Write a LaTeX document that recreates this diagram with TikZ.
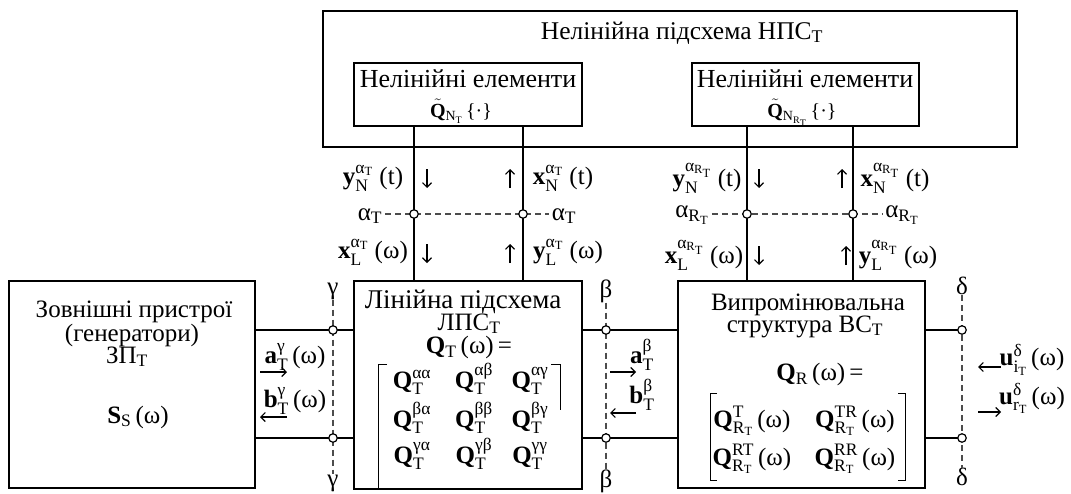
\documentclass[tikz,border=0pt]{standalone}
\usepackage{amsmath}
\usepackage{fontspec}
\setmainfont{Liberation Serif}
\usetikzlibrary{arrows.meta}
\newcommand{\tb}[1]{\text{\textbf{#1}}}
\newcommand{\tr}[1]{\text{#1}}
\begin{document}
\begin{tikzpicture}[x=1pt,y=-1pt,
  box/.style={draw, line width=2.6pt, inner sep=0},
  wire/.style={line width=1.2pt},
  brk/.style={line width=1pt},
  dsh/.style={line width=1.1pt, dash pattern=on 6pt off 4pt, black!70},
  term/.style={circle, draw, fill=white, line width=1.2pt, minimum size=8.5pt, inner sep=0},
  ttxt/.style={font=\fontsize{25.5}{28}\selectfont, inner sep=0},
  btxt/.style={font=\fontsize{26}{28}\selectfont, inner sep=0},
  mtxt/.style={font=\fontsize{25}{28}\selectfont, inner sep=0},
  ltxt/.style={font=\fontsize{27}{28}\selectfont, inner sep=0},
  mat/.style={font=\fontsize{25}{28}\selectfont, inner sep=0},
  lbl/.style={font=\fontsize{25}{26}\selectfont, inner sep=0},
  qlbl/.style={font=\fontsize{20}{22}\selectfont, inner sep=0},
  sarr/.style={line width=1.1pt, -{Straight Barb[length=4.5pt,width=9pt]}}
]
\useasboundingbox (0,0) rectangle (1071,493);

% boxes
\node[box, minimum width=694pt, minimum height=136pt] (NPS) at (670,79) {};
\node[box, minimum width=228pt, minimum height=63pt] (NE1) at (468,94.5) {};
\node[box, minimum width=227pt, minimum height=63pt] (NE2) at (805.5,94.5) {};
\node[box, minimum width=246pt, minimum height=207pt] (ZP) at (132,384.5) {};
\node[box, minimum width=228pt, minimum height=208pt] (LPS) at (468,385) {};
\node[box, minimum width=247pt, minimum height=207pt] (VS) at (801.5,384.5) {};

% terminal positions
\coordinate (pa1) at (414,214);
\coordinate (pa2) at (523,214);
\coordinate (pr1) at (747,214);
\coordinate (pr2) at (853,214);
\coordinate (pg1) at (333,330);
\coordinate (pg2) at (333,438);
\coordinate (pb1) at (606,330);
\coordinate (pb2) at (606,438);
\coordinate (pd1) at (962,330);
\coordinate (pd2) at (962,438);

% wires
\draw[wire] (NE1.south -| pa1) -- (LPS.north -| pa1);
\draw[wire] (NE1.south -| pa2) -- (LPS.north -| pa2);
\draw[wire] (NE2.south -| pr1) -- (VS.north -| pr1);
\draw[wire] (NE2.south -| pr2) -- (VS.north -| pr2);
\draw[wire] (ZP.east |- pg1) -- (LPS.west |- pg1);
\draw[wire] (ZP.east |- pg2) -- (LPS.west |- pg2);
\draw[wire] (LPS.east |- pb1) -- (VS.west |- pb1);
\draw[wire] (LPS.east |- pb2) -- (VS.west |- pb2);
\draw[wire] (VS.east |- pd1) -- (pd1);
\draw[wire] (VS.east |- pd2) -- (pd2);

% titles and texts
\node[ttxt, anchor=base] (tNPS) at (682,39) {Нелінійна підсхема НПС$_{\tr{T}}$};
\node[btxt, anchor=base] (tNE1) at (468,87) {Нелінійні елементи};
\node[qlbl, anchor=base] (qNE1) at (461,117) {$\tilde{\tb{Q}}_{\tr{N}_{\tr{T}}}$\,\{·\}};
\node[btxt, anchor=base] (tNE2) at (805,87) {Нелінійні елементи};
\node[qlbl, anchor=base] (qNE2) at (802,117) {$\tilde{\tb{Q}}_{\tr{N}_{\tr{R}_{\tr{T}}}}$\,\{·\}};

\node[mtxt, anchor=base] (tZP1) at (134,317) {Зовнішні пристрої};
\node[mtxt, anchor=base] (tZP2) at (132,341) {(генератори)};
\node[mtxt, anchor=base] (tZP3) at (127,363) {ЗП$_{\tr{T}}$};
\node[mtxt, anchor=base] (tZP4) at (138,423) {$\tb{S}_{\tr{S}}$\,(ω)};

\node[ltxt, anchor=base] (tL1) at (463,308) {Лінійна підсхема};
\node[mtxt, anchor=base] (tL2) at (469,330) {ЛПС$_{\tr{T}}$};
\node[mtxt, anchor=base] (tL3) at (469,353) {$\tb{Q}_{\tr{T}}$\,(ω)\,=};

\node[mtxt, anchor=base] (tV1) at (808,310) {Випромінювальна};
\node[mtxt, anchor=base] (tV2) at (805,332) {структура ВС$_{\tr{T}}$};
\node[mtxt, anchor=base] (tV3) at (820,380) {$\tb{Q}_{\tr{R}}$\,(ω)\,=};

% middle matrix
\node[mat, anchor=base] (m11) at (412,388) {$\tb{Q}_{\tr{T}}^{\tr{αα}}$};
\node[mat, anchor=base] (m12) at (474,388) {$\tb{Q}_{\tr{T}}^{\tr{αβ}}$};
\node[mat, anchor=base] (m13) at (530,388) {$\tb{Q}_{\tr{T}}^{\tr{αγ}}$};
\node[mat, anchor=base] (m21) at (412,427) {$\tb{Q}_{\tr{T}}^{\tr{βα}}$};
\node[mat, anchor=base] (m22) at (474,427) {$\tb{Q}_{\tr{T}}^{\tr{ββ}}$};
\node[mat, anchor=base] (m23) at (530,427) {$\tb{Q}_{\tr{T}}^{\tr{βγ}}$};
\node[mat, anchor=base] (m31) at (412,463) {$\tb{Q}_{\tr{T}}^{\tr{γα}}$};
\node[mat, anchor=base] (m32) at (474,463) {$\tb{Q}_{\tr{T}}^{\tr{γβ}}$};
\node[mat, anchor=base] (m33) at (530,463) {$\tb{Q}_{\tr{T}}^{\tr{γγ}}$};
\draw[brk] (387,364) -- (378,364) -- (378,488);
\draw[brk] (551,364) -- (560,364) -- (560,410);

% right matrix
\node[mat, anchor=base] (r11) at (752,427) {$\tb{Q}_{\tr{R}_{\tr{T}}}^{\tr{T}}$\,(ω)};
\node[mat, anchor=base] (r12) at (855,427) {$\tb{Q}_{\tr{R}_{\tr{T}}}^{\tr{TR}}$\,(ω)};
\node[mat, anchor=base] (r21) at (752,465) {$\tb{Q}_{\tr{R}_{\tr{T}}}^{\tr{RT}}$\,(ω)};
\node[mat, anchor=base] (r22) at (855,465) {$\tb{Q}_{\tr{R}_{\tr{T}}}^{\tr{RR}}$\,(ω)};
\draw[brk] (717,393) -- (710,393) -- (710,480) -- (717,480);
\draw[brk] (898,393) -- (905,393) -- (905,480) -- (898,480);

% vertical signal labels, left group
\node[lbl] (yN1) at (373,178) {$\tb{y}_{\tr{N}}^{\tr{α}_{\tr{T}}}$ (t)};
\node[lbl] (xN1) at (563,178) {$\tb{x}_{\tr{N}}^{\tr{α}_{\tr{T}}}$ (t)};
\node[lbl] (aTl) at (370,216) {$\tr{α}_{\tr{T}}$};
\node[lbl] (aTr) at (564,216) {$\tr{α}_{\tr{T}}$};
\node[lbl] (xL1) at (373,252) {$\tb{x}_{\tr{L}}^{\tr{α}_{\tr{T}}}$ (ω)};
\node[lbl] (yL1) at (568,252) {$\tb{y}_{\tr{L}}^{\tr{α}_{\tr{T}}}$ (ω)};
\draw[sarr] (427,169) -- (427,188);
\draw[sarr] (510,188) -- (510,169);
\draw[sarr] (427,244) -- (427,263);
\draw[sarr] (510,263) -- (510,244);

% vertical signal labels, right group
\node[lbl] (yN2) at (707,178) {$\tb{y}_{\tr{N}}^{\tr{α}_{\tr{R}_{\tr{T}}}}$ (t)};
\node[lbl] (xN2) at (895,178) {$\tb{x}_{\tr{N}}^{\tr{α}_{\tr{R}_{\tr{T}}}}$ (t)};
\node[lbl] (aRl) at (692,215) {$\tr{α}_{\tr{R}_{\tr{T}}}$};
\node[lbl] (aRr) at (902,215) {$\tr{α}_{\tr{R}_{\tr{T}}}$};
\node[lbl] (xL2) at (704,255) {$\tb{x}_{\tr{L}}^{\tr{α}_{\tr{R}_{\tr{T}}}}$ (ω)};
\node[lbl] (yL2) at (898,255) {$\tb{y}_{\tr{L}}^{\tr{α}_{\tr{R}_{\tr{T}}}}$ (ω)};
\draw[sarr] (759,169) -- (759,188);
\draw[sarr] (842,188) -- (842,169);
\draw[sarr] (759,246) -- (759,265);
\draw[sarr] (846,265) -- (846,246);

% port labels
\node[lbl] (gt) at (333,291) {γ};
\node[lbl] (gb) at (333,483) {γ};
\node[lbl] (bt) at (606,291) {β};
\node[lbl] (bb) at (606,481) {β};
\node[lbl] (dt) at (962,286) {δ};
\node[lbl] (db) at (962,477) {δ};

\node[lbl] (agam) at (295,357) {$\tb{a}_{\tr{T}}^{\tr{γ}}$\,(ω)};
\node[lbl] (bgam) at (295,401) {$\tb{b}_{\tr{T}}^{\tr{γ}}$\,(ω)};
\draw[sarr] (260,372) -- (287,372);
\draw[sarr] (287,417) -- (260,417);
\node[lbl] (abet) at (642,355) {$\tb{a}_{\tr{T}}^{\tr{β}}$};
\node[lbl] (bbet) at (642,395) {$\tb{b}_{\tr{T}}^{\tr{β}}$};
\draw[sarr] (610,372) -- (636,372);
\draw[sarr] (636,413) -- (610,413);
\node[lbl] (uinc) at (1032,360) {$\tb{u}_{\tr{i}_{\tr{T}}}^{\tr{δ}}$\,(ω)};
\node[lbl] (uref) at (1032,398) {$\tb{u}_{\tr{r}_{\tr{T}}}^{\tr{δ}}$\,(ω)};
\draw[sarr] (1001,367) -- (978,367);
\draw[sarr] (978,412) -- (1001,412);

% dashed section lines
\draw[dsh] (gt.south) -- (gb.north);
\draw[dsh] (bt.south) -- (bb.north);
\draw[dsh] (dt.south) -- (db.north);
\draw[dsh, shorten <=3pt, shorten >=3pt] (aTl.east |- pa1) -- (aTr.west |- pa1);
\draw[dsh, shorten <=3pt, shorten >=3pt] (aRl.east |- pr1) -- (aRr.west |- pr1);

% terminals
\foreach \p in {pa1,pa2,pr1,pr2,pg1,pg2,pb1,pb2,pd1,pd2}
  \node[term] (t\p) at (\p) {};
\end{tikzpicture}
\end{document}
